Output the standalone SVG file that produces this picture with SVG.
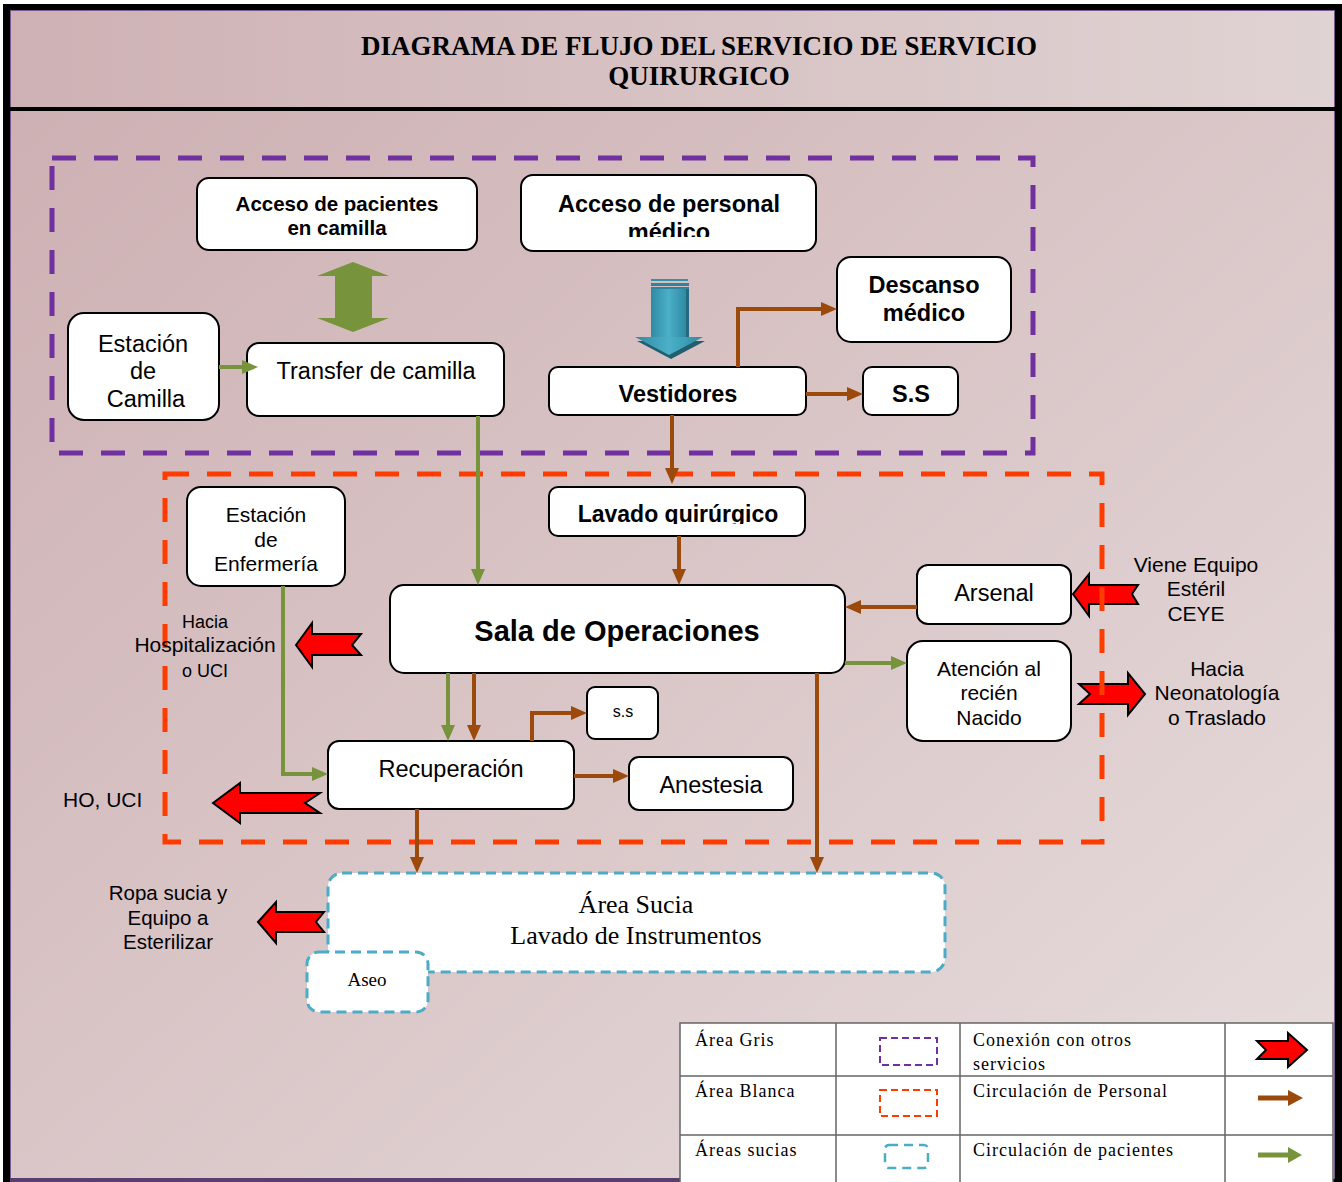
<svg xmlns="http://www.w3.org/2000/svg" width="1342" height="1182" viewBox="0 0 1342 1182">
<defs>
<linearGradient id="bg" x1="0" y1="0" x2="1" y2="1">
<stop offset="0" stop-color="#ccaeb1"/>
<stop offset="1" stop-color="#e7dddd"/>
</linearGradient>
<linearGradient id="tbg" x1="0" y1="0" x2="1" y2="0">
<stop offset="0" stop-color="#ceb1b4"/>
<stop offset="1" stop-color="#e0d3d3"/>
</linearGradient>
<linearGradient id="blue" x1="0" y1="0" x2="1" y2="0">
<stop offset="0" stop-color="#2f8aa3"/>
<stop offset="0.5" stop-color="#4bb0c8"/>
<stop offset="1" stop-color="#2f8aa3"/>
</linearGradient>
<marker id="ag" viewBox="0 0 16 14" refX="1" refY="7" markerWidth="16" markerHeight="14" markerUnits="userSpaceOnUse" orient="auto">
<path d="M0,0 L16,7 L0,14 z" fill="#77933c"/>
</marker>
<marker id="ab" viewBox="0 0 16 14" refX="1" refY="7" markerWidth="16" markerHeight="14" markerUnits="userSpaceOnUse" orient="auto">
<path d="M0,0 L16,7 L0,14 z" fill="#9b4a0b"/>
</marker>
<clipPath id="c1"><rect x="521" y="175" width="295" height="62"/></clipPath>
<clipPath id="c2"><rect x="549" y="487" width="256" height="37"/></clipPath>
<clipPath id="c3"><rect x="68" y="313" width="151" height="94"/></clipPath>
<style>
.box{fill:#fff;stroke:#000;stroke-width:2}
.sans{font-family:"Liberation Sans",Arial,sans-serif;fill:#000}
.b{font-weight:bold}
.serif{font-family:"Liberation Serif","Times New Roman",serif;fill:#000}
.g{fill:none;stroke:#77933c;stroke-width:4;marker-end:url(#ag)}
.br{fill:none;stroke:#9b4a0b;stroke-width:4;marker-end:url(#ab)}
.red{fill:#ff0000;stroke:#000;stroke-width:2;stroke-linejoin:miter}
.dirty{fill:#fff;stroke:#4bacc6;stroke-width:3;stroke-dasharray:10 6}
.leg{font-family:"Liberation Serif","Times New Roman",serif;font-size:18px;letter-spacing:1px;fill:#000}
</style>
</defs>

<!-- frame -->
<rect x="0" y="0" width="1342" height="1182" fill="#fff"/>
<rect x="3" y="4" width="1339" height="1178" fill="#000"/>
<rect x="10" y="10" width="1325" height="1169" fill="url(#bg)"/>
<rect x="10" y="10" width="1325" height="98" fill="url(#tbg)"/>
<rect x="10.5" y="10.5" width="1324" height="1168" fill="none" stroke="#7a5a8a" stroke-width="1"/>
<rect x="10" y="107" width="1325" height="4" fill="#000"/>
<rect x="10" y="1178" width="670" height="4" fill="#5a3f6e"/>

<g id="title">
<text class="serif b" font-size="27" text-anchor="middle" x="699" y="55">DIAGRAMA DE FLUJO DEL SERVICIO DE SERVICIO</text>
<text class="serif b" font-size="27" text-anchor="middle" x="699" y="85">QUIRURGICO</text>
</g>

<!-- block arrows (connections with other services) -->
<g id="external-arrows">
<path class="red" d="M296,645 L312,623 L312,634 L361,634 L352,645 L361,655 L312,655 L312,667 Z"/>
<path class="red" d="M213,803 L240,783 L240,793 L320,793 L305,803 L320,813 L240,813 L240,823 Z"/>
<path class="red" d="M258,922 L276,902 L276,912 L324,912 L316,922 L324,932 L276,932 L276,943 Z"/>
<path class="red" d="M1073,594 L1089,574 L1089,585 L1138,585 L1132,594 L1138,604 L1089,604 L1089,616 Z"/>
<path class="red" d="M1079,684 L1128,684 L1128,673 L1145,694 L1128,715 L1128,704 L1079,704 L1090,694 Z"/>
</g>

<!-- zones -->
<g id="zones">
<rect id="area-gris" x="52" y="158" width="981" height="295" fill="none" stroke="#7030a0" stroke-width="5" stroke-dasharray="24 18"/>
<rect id="area-blanca" x="165" y="474" width="937" height="368" fill="none" stroke="#ff3c00" stroke-width="5" stroke-dasharray="24 18"/>
</g>

<!-- nodes -->
<g id="acceso-pacientes">
<rect class="box" x="197" y="178" width="280" height="72" rx="12"/>
<text class="sans b" font-size="20.5" text-anchor="middle" x="337" y="211">Acceso de pacientes</text>
<text class="sans b" font-size="20.5" text-anchor="middle" x="337" y="235">en camilla</text>
</g>
<g id="acceso-personal">
<rect class="box" x="521" y="175" width="295" height="76" rx="12"/>
<g clip-path="url(#c1)">
<text class="sans b" font-size="23.5" text-anchor="middle" x="669" y="212">Acceso de personal</text>
<text class="sans b" font-size="23.5" text-anchor="middle" x="669" y="240">médico</text>
</g>
</g>
<g id="descanso">
<rect class="box" x="837" y="257" width="174" height="85" rx="14"/>
<text class="sans b" font-size="23.5" text-anchor="middle" x="924" y="293">Descanso</text>
<text class="sans b" font-size="23.5" text-anchor="middle" x="924" y="321">médico</text>
</g>
<g id="estacion-camilla">
<rect class="box" x="68" y="313" width="151" height="107" rx="16"/>
<g clip-path="url(#c3)">
<text class="sans" font-size="23.5" text-anchor="middle" x="143" y="352">Estación</text>
<text class="sans" font-size="23.5" text-anchor="middle" x="143" y="379">de</text>
<text class="sans" font-size="23.5" text-anchor="middle" x="146" y="407">Camilla</text>
</g>
</g>
<g id="transfer">
<rect class="box" x="247" y="343" width="257" height="73" rx="12"/>
<text class="sans" font-size="23.5" text-anchor="middle" x="376" y="379">Transfer de camilla</text>
</g>
<g id="vestidores">
<rect class="box" x="549" y="367" width="257" height="48" rx="9"/>
<text class="sans b" font-size="23.5" text-anchor="middle" x="678" y="402">Vestidores</text>
</g>
<g id="ss-top">
<rect class="box" x="863" y="367" width="95" height="48" rx="9"/>
<text class="sans b" font-size="23.5" text-anchor="middle" x="911" y="402">S.S</text>
</g>
<g id="lavado">
<rect class="box" x="549" y="487" width="256" height="49" rx="9"/>
<g clip-path="url(#c2)">
<text class="sans b" font-size="23" text-anchor="middle" x="678" y="522">Lavado quirúrgico</text>
</g>
</g>
<g id="enfermeria">
<rect class="box" x="187" y="487" width="158" height="99" rx="14"/>
<text class="sans" font-size="21" text-anchor="middle" x="266" y="522">Estación</text>
<text class="sans" font-size="21" text-anchor="middle" x="266" y="547">de</text>
<text class="sans" font-size="21" text-anchor="middle" x="266" y="571">Enfermería</text>
</g>
<g id="sala">
<rect class="box" x="390" y="585" width="455" height="88" rx="14"/>
<text class="sans b" font-size="29" text-anchor="middle" x="617" y="641">Sala de Operaciones</text>
</g>
<g id="arsenal">
<rect class="box" x="917" y="565" width="154" height="59" rx="11"/>
<text class="sans" font-size="23.5" text-anchor="middle" x="994" y="601">Arsenal</text>
</g>
<g id="atencion">
<rect class="box" x="907" y="641" width="164" height="100" rx="16"/>
<text class="sans" font-size="21" text-anchor="middle" x="989" y="676">Atención al</text>
<text class="sans" font-size="21" text-anchor="middle" x="989" y="700">recién</text>
<text class="sans" font-size="21" text-anchor="middle" x="989" y="725">Nacido</text>
</g>
<g id="ss-small">
<rect class="box" x="587" y="687" width="71" height="52" rx="8"/>
<text class="sans" font-size="16" text-anchor="middle" x="623" y="717">s.s</text>
</g>
<g id="recuperacion">
<rect class="box" x="328" y="741" width="246" height="68" rx="11"/>
<text class="sans" font-size="23.5" text-anchor="middle" x="451" y="777">Recuperación</text>
</g>
<g id="anestesia">
<rect class="box" x="629" y="757" width="164" height="53" rx="10"/>
<text class="sans" font-size="23.5" text-anchor="middle" x="711" y="793">Anestesia</text>
</g>
<g id="area-sucia">
<rect class="dirty" x="328" y="873" width="617" height="99" rx="14"/>
<text class="serif" font-size="26" text-anchor="middle" x="636" y="913">Área Sucia</text>
<text class="serif" font-size="26" text-anchor="middle" x="636" y="944">Lavado de Instrumentos</text>
</g>
<g id="aseo">
<rect class="dirty" x="307" y="952" width="121" height="60" rx="12"/>
<text class="serif" font-size="19" text-anchor="middle" x="367" y="986">Aseo</text>
</g>

<!-- connectors -->
<g id="connectors">
<path class="g" d="M219,367 H243"/>
<path class="g" d="M478,416 V570"/>
<path class="g" d="M448,673 V726"/>
<path class="g" d="M283,586 V774 H313"/>
<path class="g" d="M845,663 H892"/>
<path class="br" d="M738,367 V309 H822"/>
<path class="br" d="M806,394 H848"/>
<path class="br" d="M672,415 V469"/>
<path class="br" d="M679,536 V570"/>
<path class="br" d="M917,607 H860"/>
<path class="br" d="M474,673 V726"/>
<path class="br" d="M532,741 V713 H572"/>
<path class="br" d="M574,776 H614"/>
<path class="br" d="M417,809 V858"/>
<path class="br" d="M817,673 V858"/>
<!-- double green arrow -->
<path d="M353,262 L389,276 L372,276 L372,318 L389,318 L353,332 L317,318 L335,318 L335,276 L317,276 Z" fill="#77933c"/>
<!-- blue arrow -->
<g id="blue-arrow">
<rect x="651" y="279" width="37" height="2" fill="#3590a8"/>
<rect x="651" y="283" width="38" height="3" fill="#2f84a0"/>
<rect x="651" y="287" width="38" height="2" fill="#2f84a0"/>
<rect x="686" y="289" width="3" height="48" fill="#246a7e"/>
<rect x="651" y="289" width="35" height="48" fill="url(#blue)"/>
<path d="M637,341 L705,341 L671,359 Z" fill="#215e6e"/>
<path d="M635,337 L703,337 L669,355 Z" fill="url(#blue)"/>
</g>
</g>

<!-- free labels -->
<g id="labels">
<text class="sans" font-size="18" text-anchor="middle" x="205" y="628">Hacia</text>
<text class="sans" font-size="21" text-anchor="middle" x="205" y="652">Hospitalización</text>
<text class="sans" font-size="18" text-anchor="middle" x="205" y="677">o UCI</text>
<text class="sans" font-size="21" x="63" y="807">HO, UCI</text>
<text class="sans" font-size="20.5" text-anchor="middle" x="168" y="900">Ropa sucia y</text>
<text class="sans" font-size="20.5" text-anchor="middle" x="168" y="925">Equipo a</text>
<text class="sans" font-size="20.5" text-anchor="middle" x="168" y="949">Esterilizar</text>
<text class="sans" font-size="21" text-anchor="middle" x="1196" y="572">Viene Equipo</text>
<text class="sans" font-size="21" text-anchor="middle" x="1196" y="596">Estéril</text>
<text class="sans" font-size="21" text-anchor="middle" x="1196" y="621">CEYE</text>
<text class="sans" font-size="21" text-anchor="middle" x="1217" y="676">Hacia</text>
<text class="sans" font-size="21" text-anchor="middle" x="1217" y="700">Neonatología</text>
<text class="sans" font-size="21" text-anchor="middle" x="1217" y="725">o Traslado</text>
</g>

<!-- legend -->
<g id="legend">
<rect x="680" y="1023" width="653" height="162" fill="#fff" stroke="#666" stroke-width="1.5"/>
<path d="M680,1076 H1333 M680,1135 H1333 M836,1023 V1182 M960,1023 V1182 M1225,1023 V1182" stroke="#666" stroke-width="1.5" fill="none"/>
<text class="leg" x="695" y="1046">Área Gris</text>
<text class="leg" x="695" y="1097">Área Blanca</text>
<text class="leg" x="695" y="1156">Áreas  sucias</text>
<text class="leg" x="973" y="1046">Conexión con otros</text>
<text class="leg" x="973" y="1070">servicios</text>
<text class="leg" x="973" y="1097">Circulación  de Personal</text>
<text class="leg" x="973" y="1156">Circulación  de pacientes</text>
<rect x="880" y="1038" width="57" height="27" fill="none" stroke="#7030a0" stroke-width="2" stroke-dasharray="7 4"/>
<rect x="880" y="1090" width="57" height="26" fill="none" stroke="#ff3c00" stroke-width="2" stroke-dasharray="7 4"/>
<rect x="885" y="1145" width="43" height="23" rx="4" fill="none" stroke="#4bacc6" stroke-width="2.5" stroke-dasharray="9 6"/>
<path class="red" d="M1257,1041 L1288,1041 L1288,1033 L1307,1050 L1288,1067 L1288,1059 L1257,1059 L1266,1050 Z"/>
<path d="M1258,1098 H1290" stroke="#9b4a0b" stroke-width="5"/>
<path d="M1288,1090 L1303,1098 L1288,1106 Z" fill="#9b4a0b"/>
<path d="M1258,1155 H1290" stroke="#77933c" stroke-width="5"/>
<path d="M1288,1147 L1302,1155 L1288,1163 Z" fill="#77933c"/>
</g>
</svg>
